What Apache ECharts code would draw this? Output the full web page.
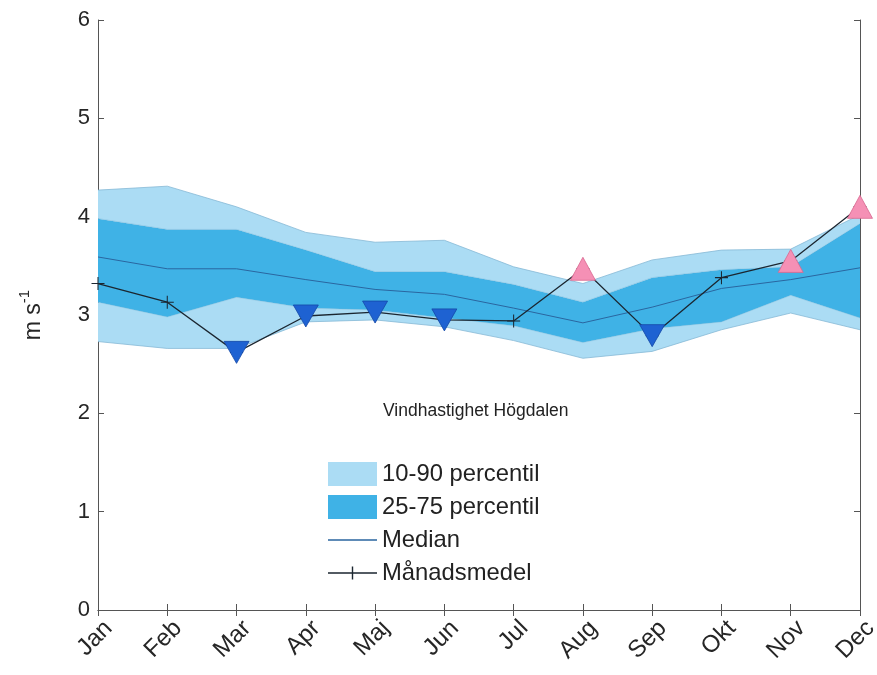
<!DOCTYPE html>
<html>
<head>
<meta charset="utf-8">
<script src="https://cdn.jsdelivr.net/npm/echarts@6/dist/echarts.min.js"></script>
<style>
html,body{margin:0;padding:0;background:#fff;overflow:hidden;}
#c{width:877px;height:675px;}
</style>
</head>
<body>
<div id="c"></div>
<script>
const months = ['Jan','Feb','Mar','Apr','Maj','Jun','Jul','Aug','Sep','Okt','Nov','Dec'];
const p10    = [2.73, 2.66, 2.66, 2.93, 2.95, 2.88, 2.74, 2.56, 2.63, 2.85, 3.02, 2.85];
const p25    = [3.13, 2.98, 3.18, 3.07, 3.05, 2.97, 2.89, 2.72, 2.86, 2.93, 3.20, 2.97];
const median = [3.59, 3.47, 3.47, 3.36, 3.26, 3.21, 3.07, 2.92, 3.08, 3.27, 3.36, 3.48];
const p75    = [3.98, 3.87, 3.87, 3.66, 3.44, 3.44, 3.31, 3.13, 3.38, 3.46, 3.49, 3.93];
const p90    = [4.27, 4.31, 4.10, 3.84, 3.74, 3.76, 3.49, 3.32, 3.56, 3.66, 3.67, 4.02];
const mean   = [3.32, 3.13, 2.62, 2.99, 3.03, 2.95, 2.94, 3.47, 2.79, 3.38, 3.55, 4.10];
const lowMonths  = ['Mar','Apr','Maj','Jun','Sep'];
const highMonths = ['Aug','Nov','Dec'];
const yTicks = [0,1,2,3,4,5,6];

const LIGHT = '#abdcf4';
const DARK = '#3fb2e6';
const EDGE = '#86b9d6';
const AX = '#555555';
const MED = '#2a66a0';
const MEAN = '#1b2630';
const FONT = 'Liberation Sans, Arial, sans-serif';

const diff = (a,b) => a.map((v,i)=> +(v - b[i]).toFixed(3));
const plusPath = 'path://M4.6,0h0.8v4.6h4.6v0.8h-4.6v4.6h-0.8v-4.6h-4.6v-0.8h4.6z';
// legend icons: line across the full item box (tiny corner specks fix the bounding box)
const lineIcon = 'path://M0,0h0.01v0.01h-0.01z M48.99,23.99h0.01v0.01h-0.01z M0,11.3h49v1.4h-49z';
const plusIcon = 'path://M0,0h0.01v0.01h-0.01z M48.99,23.99h0.01v0.01h-0.01z M0,11.3h49v1.4h-49z M23.8,5.5h1.4v13h-1.4z';

const chart = echarts.init(document.getElementById('c'), null, {renderer:'canvas'});
const option = {
  animation:false,
  backgroundColor:'#ffffff',
  textStyle:{fontFamily:FONT},
  grid:{left:98,right:17,top:20,bottom:65,containLabel:false,outerBoundsMode:'none'},
  title:{text:'Vindhastighet Högdalen',left:383,top:402,padding:0,
    textStyle:{fontSize:17.5,fontWeight:'normal',color:'#222',fontFamily:FONT}},
  legend:{
    orient:'vertical',left:328,top:462,padding:0,itemWidth:49,itemHeight:24,itemGap:9,
    textStyle:{fontSize:23.8,color:'#222',lineHeight:24,fontFamily:FONT},
    selectedMode:false,
    data:[
      {name:'10-90 percentil',icon:'rect',itemStyle:{color:LIGHT,borderWidth:0}},
      {name:'25-75 percentil',icon:'rect',itemStyle:{color:DARK,borderWidth:0}},
      {name:'Median',icon:lineIcon,itemStyle:{color:MED,borderWidth:0}},
      {name:'Månadsmedel',icon:plusIcon,itemStyle:{color:MEAN,borderWidth:0}}
    ]
  },
  xAxis:[
    {type:'category',data:months,boundaryGap:false,position:'bottom',
     axisLine:{lineStyle:{color:AX,width:1}},
     axisTick:{inside:true,length:6,lineStyle:{color:AX}},
     axisLabel:{rotate:45,fontSize:24,color:'#262626',margin:4,interval:0,hideOverlap:false,
       align:'right',verticalAlign:'top',padding:[3,0,0,0],fontFamily:FONT},
     splitLine:{show:false}},
    {type:'category',data:months,boundaryGap:false,position:'top',
     axisLine:{lineStyle:{color:AX,width:1}},
     axisTick:{inside:true,length:6,lineStyle:{color:AX}},
     axisLabel:{show:false},splitLine:{show:false}}
  ],
  yAxis:[
    {type:'value',min:yTicks[0],max:yTicks[yTicks.length-1],interval:1,
     axisLine:{show:true,lineStyle:{color:AX,width:1}},
     axisTick:{show:true,inside:true,length:6,lineStyle:{color:AX}},
     axisLabel:{fontSize:22,color:'#262626',margin:8,fontFamily:FONT},
     splitLine:{show:false},
     name:'m s{sup|-1}',nameLocation:'middle',nameGap:48,nameRotate:90,
     nameTextStyle:{fontSize:23,color:'#262626',fontFamily:FONT,
       rich:{sup:{fontSize:15,verticalAlign:'top',padding:[0,0,18,0],color:'#262626',fontFamily:FONT}}}},
    {type:'value',min:yTicks[0],max:yTicks[yTicks.length-1],interval:1,position:'right',
     axisLine:{show:true,lineStyle:{color:AX,width:1}},
     axisTick:{show:true,inside:true,length:6,lineStyle:{color:AX}},
     axisLabel:{show:false},splitLine:{show:false}}
  ],
  series:[
    {name:'base',type:'line',stack:'band',data:p10,symbol:'none',
     lineStyle:{color:EDGE,width:0.8},z:1},
    {name:'10-90 percentil',type:'line',stack:'band',data:diff(p25,p10),symbol:'none',
     lineStyle:{color:EDGE,width:0.6,opacity:0.6},areaStyle:{color:LIGHT,opacity:1},itemStyle:{color:LIGHT},z:1},
    {name:'25-75 percentil',type:'line',stack:'band',data:diff(p75,p25),symbol:'none',
     lineStyle:{color:'#5ea8cf',width:0.6,opacity:0.6},areaStyle:{color:DARK,opacity:1},itemStyle:{color:DARK},z:1},
    {name:'10-90 percentil',type:'line',stack:'band',data:diff(p90,p75),symbol:'none',
     lineStyle:{color:EDGE,width:0.8},areaStyle:{color:LIGHT,opacity:1},itemStyle:{color:LIGHT},z:1},
    {name:'Median',type:'line',data:median,symbol:'none',
     lineStyle:{color:MED,width:1},itemStyle:{color:MED},z:3},
    {name:'Månadsmedel',type:'line',data:mean,symbol:plusPath,symbolSize:13,showAllSymbol:true,
     lineStyle:{color:MEAN,width:1.3},itemStyle:{color:MEAN},z:4},
    {name:'low',type:'scatter',
     data:lowMonths.map(m=>[m, mean[months.indexOf(m)]]),
     symbol:'triangle',symbolRotate:180,symbolSize:[25,22],
     itemStyle:{color:'#1e62d2',borderColor:'#1448a8',borderWidth:0.8,opacity:1},z:5},
    {name:'high',type:'scatter',
     data:highMonths.map(m=>[m, mean[months.indexOf(m)]]),
     symbol:'triangle',symbolSize:[25,23],
     itemStyle:{color:'#f590b5',borderColor:'#d8678f',borderWidth:0.8,opacity:1},z:5}
  ]
};
chart.setOption(option);
</script>
</body>
</html>
